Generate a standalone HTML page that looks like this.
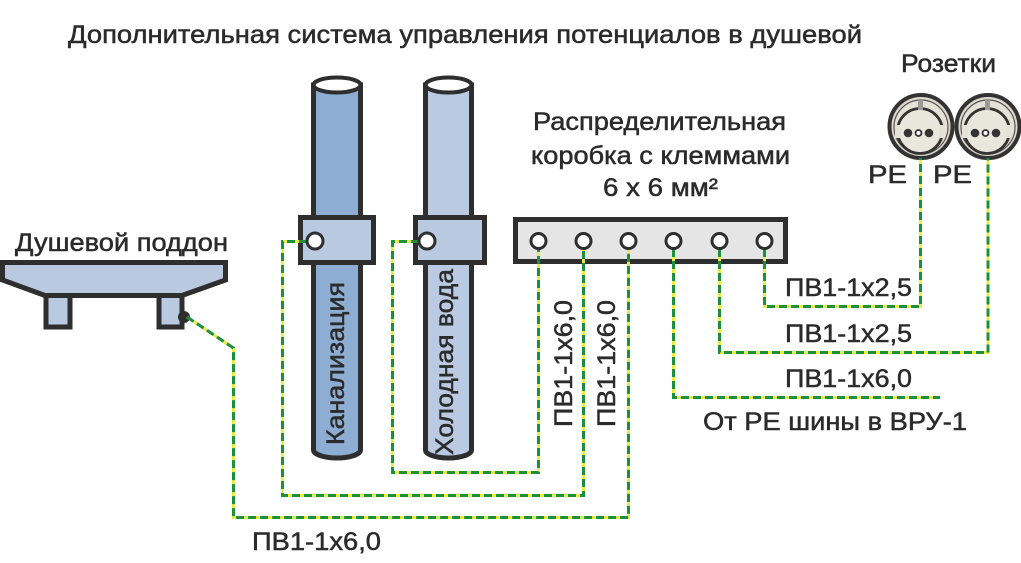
<!DOCTYPE html>
<html>
<head>
<meta charset="utf-8">
<style>
html,body{margin:0;padding:0;background:#fff;}
svg{display:block;}
text{font-family:"Liberation Sans","Noto Sans CJK SC",sans-serif;fill:#2b2b2b;stroke:#2b2b2b;stroke-width:0.5px;}
</style>
</head>
<body>
<svg width="1021" height="563" viewBox="0 0 1021 563" xmlns="http://www.w3.org/2000/svg">
<rect width="1021" height="563" fill="#fff"/>

<!-- Title -->
<text x="68" y="43" font-size="25" textLength="794" lengthAdjust="spacingAndGlyphs">Дополнительная система управления потенциалов в душевой</text>

<!-- Shower tray -->
<text x="15" y="251" font-size="25" textLength="213" lengthAdjust="spacingAndGlyphs">Душевой поддон</text>
<rect x="46" y="293" width="24" height="34" fill="#b9c9e0" stroke="#2e2e2e" stroke-width="5"/>
<rect x="159" y="293" width="23" height="34" fill="#b9c9e0" stroke="#2e2e2e" stroke-width="5"/>
<polygon points="2.5,262.5 225.5,262.5 225.5,280 182,295.5 45,295.5 2.5,280" fill="#b9c9e0" stroke="#2e2e2e" stroke-width="5" stroke-linejoin="miter"/>
<circle cx="184" cy="317" r="6" fill="#2e2e2e"/>

<!-- Pipe 1: Канализация -->
<path d="M313.5,85 V450 A23.5,8 0 0 0 360.5,450 V85 Z" fill="#8eadd3" stroke="#2e2e2e" stroke-width="5"/>
<ellipse cx="337" cy="85" rx="23.5" ry="7.5" fill="#fff" stroke="#2e2e2e" stroke-width="4"/>
<text transform="translate(344,445) rotate(-90)" font-size="25" textLength="163" lengthAdjust="spacingAndGlyphs">Канализация</text>

<!-- Pipe 2: Холодная вода -->
<path d="M425.5,85 V450 A23,8 0 0 0 471.5,450 V85 Z" fill="#b9cae2" stroke="#2e2e2e" stroke-width="5"/>
<ellipse cx="448.5" cy="85" rx="23" ry="7.5" fill="#fff" stroke="#2e2e2e" stroke-width="4"/>
<text transform="translate(453,455) rotate(-90)" font-size="25" textLength="186" lengthAdjust="spacingAndGlyphs">Холодная вода</text>

<!-- Clamps -->
<rect x="300.5" y="217.5" width="73" height="45" fill="#b9c9e0" stroke="#2e2e2e" stroke-width="5"/>
<rect x="415.5" y="217.5" width="69" height="45" fill="#b9c9e0" stroke="#2e2e2e" stroke-width="5"/>

<!-- Distribution box -->
<text x="533" y="130" font-size="25" textLength="253" lengthAdjust="spacingAndGlyphs">Распределительная</text>
<text x="531" y="164" font-size="25" textLength="259" lengthAdjust="spacingAndGlyphs">коробка с клеммами</text>
<text x="603" y="196" font-size="25" textLength="115" lengthAdjust="spacingAndGlyphs">6 x 6 мм²</text>
<rect x="515.5" y="219.5" width="270" height="42" fill="#e5e5e5" stroke="#2e2e2e" stroke-width="5"/>

<!-- Sockets -->
<text x="901" y="72" font-size="25" textLength="95" lengthAdjust="spacingAndGlyphs">Розетки</text>
<g>
  <circle cx="921" cy="126.5" r="31.5" fill="#dddacd" stroke="#333" stroke-width="4"/>
  <circle cx="921" cy="127" r="27" fill="#e4e1d6" stroke="#555" stroke-width="1.2"/>
  <circle cx="920" cy="131" r="22.5" fill="#e9e6dc" stroke="#333" stroke-width="2.8"/>
  <rect x="895" y="125" width="6" height="13" fill="#e4e1d6"/>
  <rect x="939" y="125" width="6" height="13" fill="#e4e1d6"/>
  <rect x="918" y="100" width="5" height="10" fill="#9a9a9a"/>
  <circle cx="908" cy="133" r="4.3" fill="#333"/>
  <circle cx="918.5" cy="133" r="3" fill="#fff" stroke="#333" stroke-width="1.8"/>
  <circle cx="929" cy="133" r="4.3" fill="#333"/>
</g>
<g>
  <circle cx="988" cy="126.5" r="31.5" fill="#dddacd" stroke="#333" stroke-width="4"/>
  <circle cx="988" cy="127" r="27" fill="#e4e1d6" stroke="#555" stroke-width="1.2"/>
  <circle cx="987" cy="131" r="22.5" fill="#e9e6dc" stroke="#333" stroke-width="2.8"/>
  <rect x="962" y="125" width="6" height="13" fill="#e4e1d6"/>
  <rect x="1006" y="125" width="6" height="13" fill="#e4e1d6"/>
  <rect x="985" y="100" width="5" height="10" fill="#9a9a9a"/>
  <circle cx="975" cy="133" r="4.3" fill="#333"/>
  <circle cx="985.5" cy="133" r="3" fill="#fff" stroke="#333" stroke-width="1.8"/>
  <circle cx="996" cy="133" r="4.3" fill="#333"/>
</g>
<text x="868" y="183" font-size="25" textLength="39" lengthAdjust="spacingAndGlyphs">PE</text>
<text x="933" y="183" font-size="25" textLength="39" lengthAdjust="spacingAndGlyphs">PE</text>

<!-- Wires: yellow base -->
<g fill="none" stroke="#ecec48" stroke-width="3">
  <path d="M187,317 L233.5,348 V517.5 H628.5 V249"/>
  <path d="M307,241.5 H282.5 V495.5 H583.5 V249"/>
  <path d="M419,241.5 H392.5 V472.5 H538.5 V249"/>
  <path d="M673.5,249 V397.5 H940"/>
  <path d="M719.5,249 V352.5 H988 V158"/>
  <path d="M764.5,249 V306.5 H920.5 V158"/>
</g>
<!-- Wires: green dashes -->
<g fill="none" stroke="#1e8f3e" stroke-width="3" stroke-dasharray="8 4">
  <path d="M187,317 L233.5,348 V517.5 H628.5 V249"/>
  <path d="M307,241.5 H282.5 V495.5 H583.5 V249"/>
  <path d="M419,241.5 H392.5 V472.5 H538.5 V249"/>
  <path d="M673.5,249 V397.5 H940"/>
  <path d="M719.5,249 V352.5 H988 V158"/>
  <path d="M764.5,249 V306.5 H920.5 V158"/>
</g>

<!-- Clamp terminals -->
<circle cx="315" cy="241" r="8" fill="#fff" stroke="#2e2e2e" stroke-width="3"/>
<circle cx="427" cy="241" r="8" fill="#fff" stroke="#2e2e2e" stroke-width="3"/>

<!-- Box terminals -->
<g fill="#fff" stroke="#2e2e2e" stroke-width="3">
  <circle cx="538.5" cy="241" r="7.5"/>
  <circle cx="583.5" cy="241" r="7.5"/>
  <circle cx="628.5" cy="241" r="7.5"/>
  <circle cx="673.5" cy="241" r="7.5"/>
  <circle cx="719.5" cy="241" r="7.5"/>
  <circle cx="764.5" cy="241" r="7.5"/>
</g>

<!-- Wire labels -->
<text transform="translate(572,427) rotate(-90)" font-size="25" textLength="127" lengthAdjust="spacingAndGlyphs">ПВ1-1x6,0</text>
<text transform="translate(615,427) rotate(-90)" font-size="25" textLength="127" lengthAdjust="spacingAndGlyphs">ПВ1-1x6,0</text>
<text x="785" y="296" font-size="25" textLength="127" lengthAdjust="spacingAndGlyphs">ПВ1-1x2,5</text>
<text x="785" y="342" font-size="25" textLength="127" lengthAdjust="spacingAndGlyphs">ПВ1-1x2,5</text>
<text x="785" y="387" font-size="25" textLength="127" lengthAdjust="spacingAndGlyphs">ПВ1-1x6,0</text>
<text x="703" y="430" font-size="25" textLength="264" lengthAdjust="spacingAndGlyphs">От РЕ шины в ВРУ-1</text>
<text x="252" y="550" font-size="25" textLength="129" lengthAdjust="spacingAndGlyphs">ПВ1-1x6,0</text>
</svg>
</body>
</html>
